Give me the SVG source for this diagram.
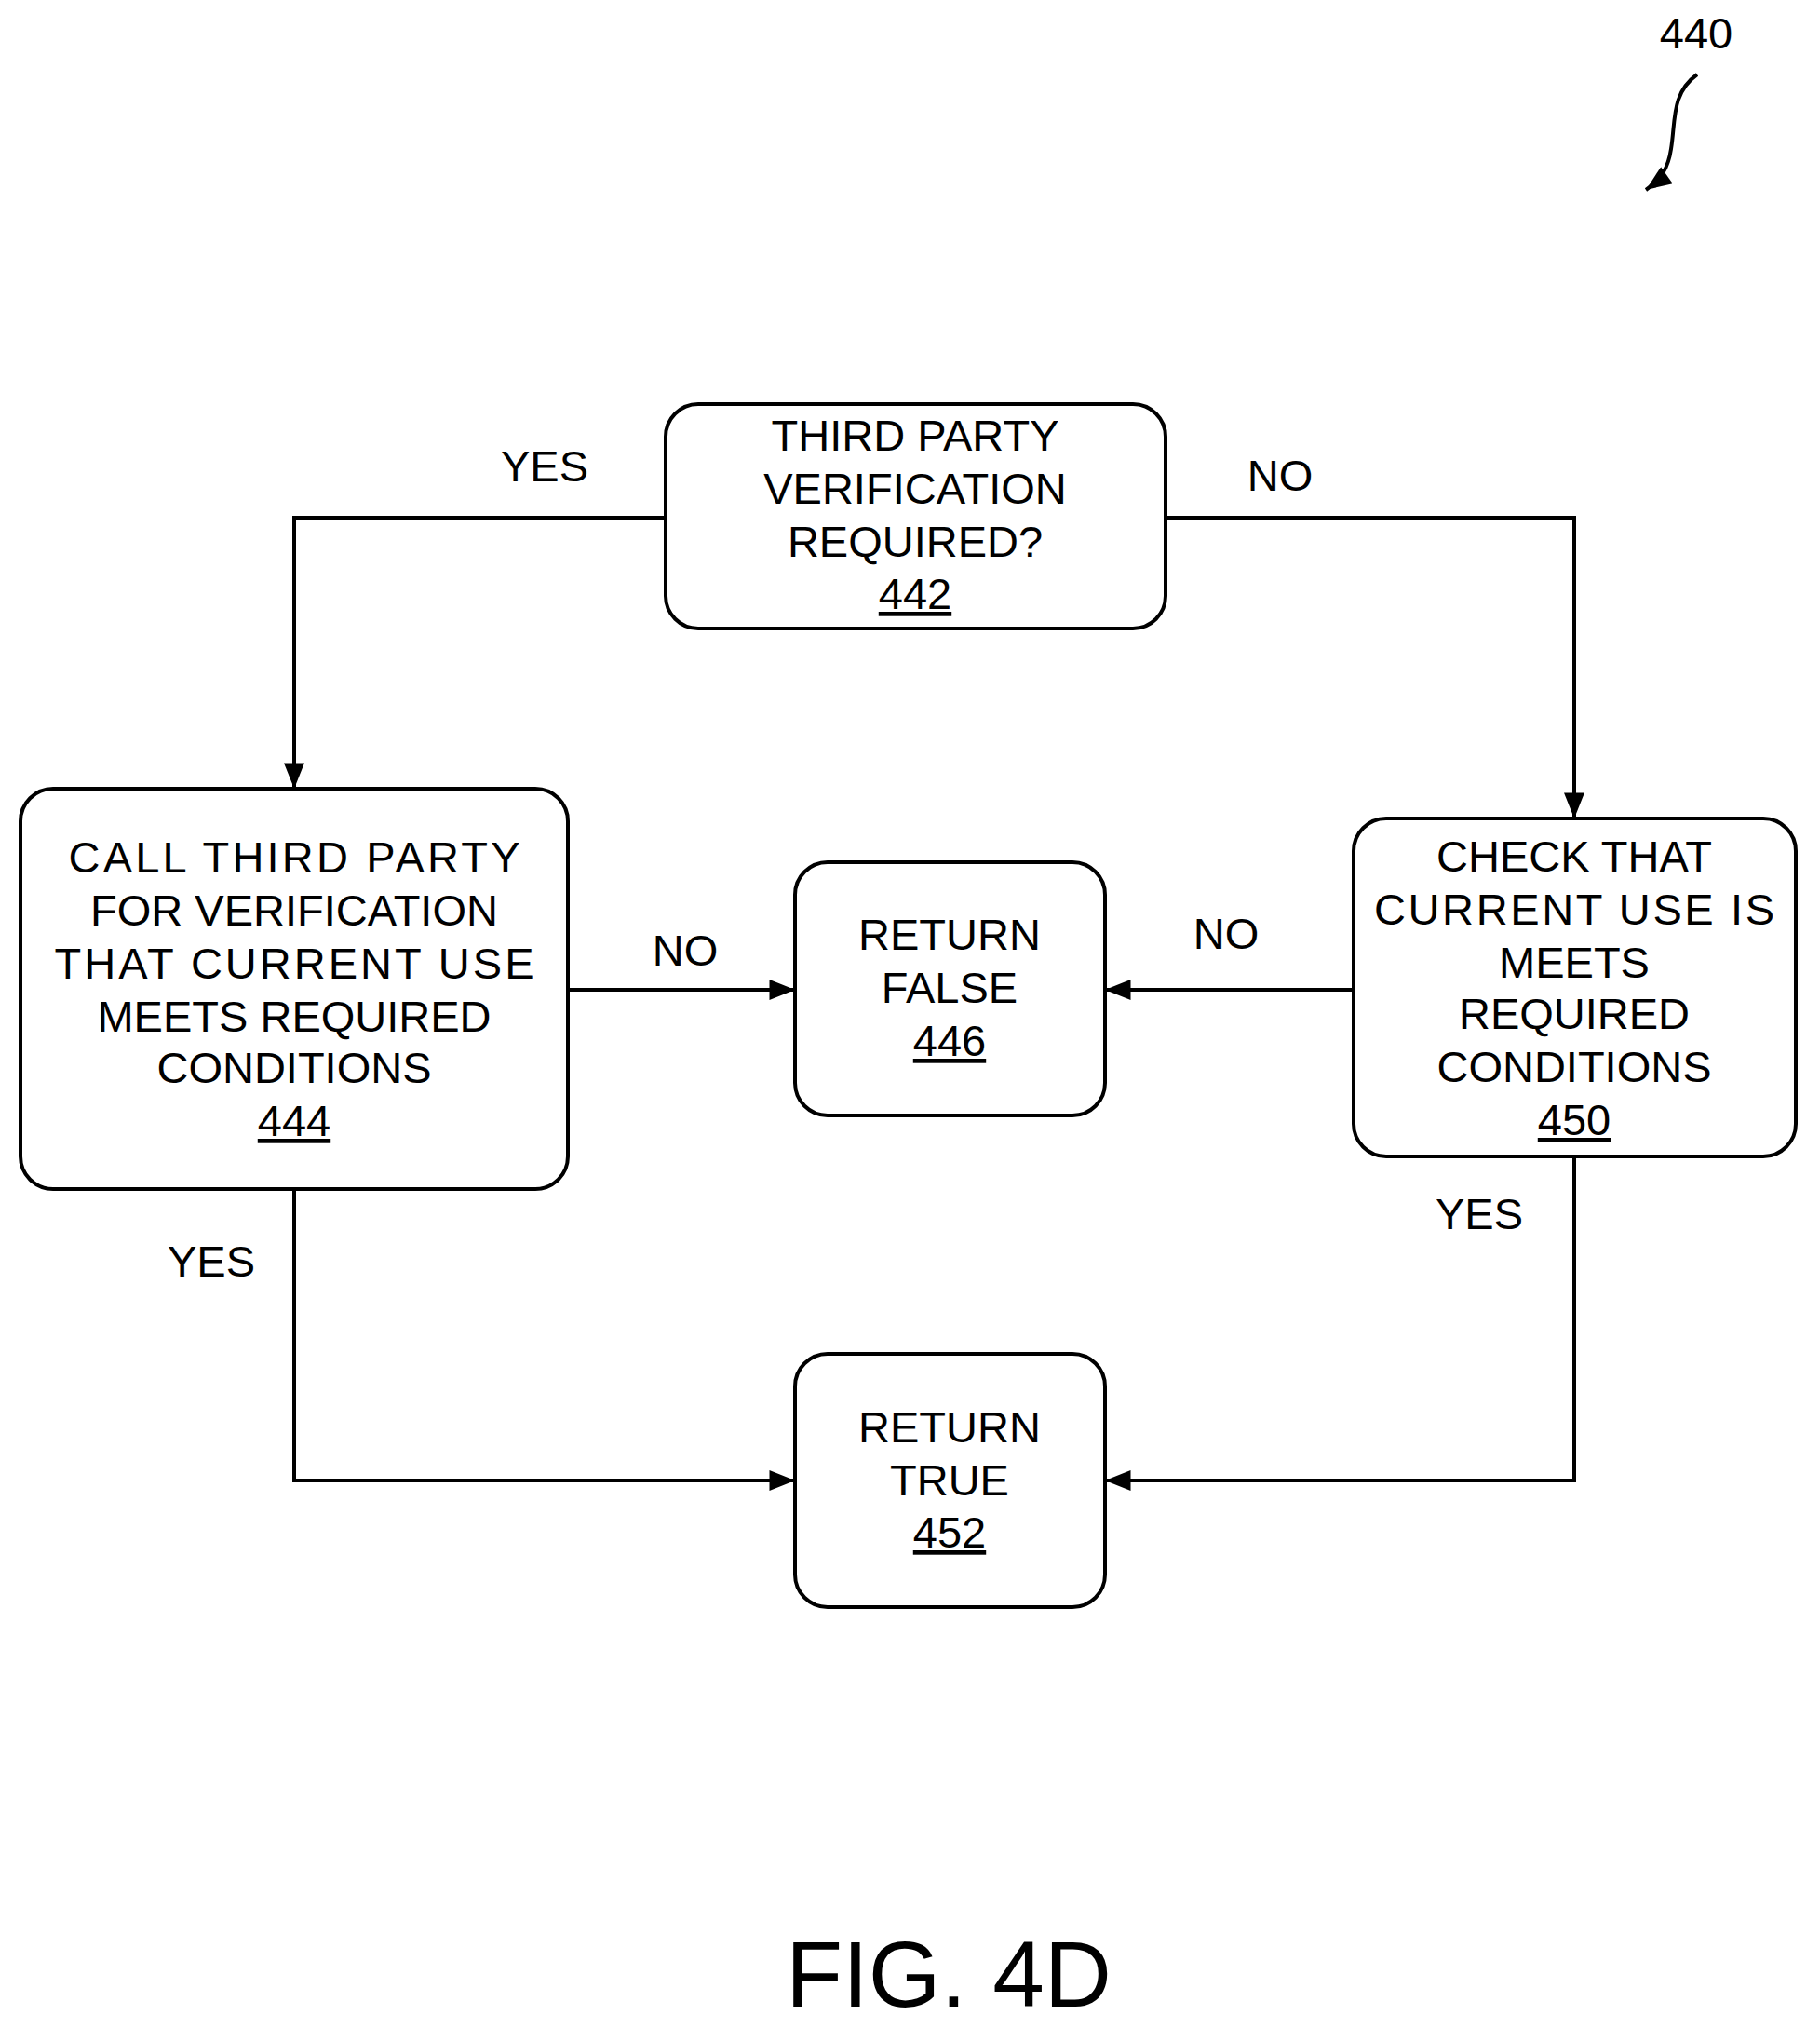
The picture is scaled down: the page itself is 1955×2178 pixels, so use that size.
<svg xmlns="http://www.w3.org/2000/svg" width="1955" height="2178" viewBox="0 0 1955 2178">
<style>
.b{fill:#fff;stroke:#000;stroke-width:4}
.t{font-family:"Liberation Sans",Arial,sans-serif;font-size:47px;text-anchor:middle;fill:#000}
.c{fill:none;stroke:#000;stroke-width:4}
</style>
<defs>
<marker id="A" viewBox="0 0 10 8" refX="10" refY="4" markerWidth="34" markerHeight="22" orient="auto" markerUnits="userSpaceOnUse"><path d="M0,0L10,4L0,8z"/></marker></defs>
<rect width="1955" height="2178" fill="#fff"/>
<g id="n442"><rect class="b" x="715" y="434" width="537" height="241" rx="35"/>
<text class="t" x="983" y="484">THIRD PARTY</text><text class="t" x="983" y="541">VERIFICATION</text><text class="t" x="983" y="598">REQUIRED?</text><text class="t" x="983" y="654" text-decoration="underline">442</text></g>
<g id="n444"><rect class="b" x="22" y="847" width="588" height="430" rx="35"/>
<text class="t" x="316" y="937" textLength="485">CALL THIRD PARTY</text><text class="t" x="316" y="994">FOR VERIFICATION</text><text class="t" x="316" y="1051" textLength="515">THAT CURRENT USE</text><text class="t" x="316" y="1108">MEETS REQUIRED</text><text class="t" x="316" y="1163">CONDITIONS</text><text class="t" x="316" y="1220" text-decoration="underline">444</text></g>
<g id="n446"><rect class="b" x="854" y="926" width="333" height="272" rx="35"/>
<text class="t" x="1020" y="1020">RETURN</text><text class="t" x="1020" y="1077">FALSE</text><text class="t" x="1020" y="1134" text-decoration="underline">446</text></g>
<g id="n450"><rect class="b" x="1454" y="879" width="475" height="363" rx="35"/>
<text class="t" x="1691" y="936">CHECK THAT</text><text class="t" x="1691" y="993" textLength="430">CURRENT USE IS</text><text class="t" x="1691" y="1050">MEETS</text><text class="t" x="1691" y="1105">REQUIRED</text><text class="t" x="1691" y="1162">CONDITIONS</text><text class="t" x="1691" y="1219" text-decoration="underline">450</text></g>
<g id="n452"><rect class="b" x="854" y="1454" width="333" height="272" rx="35"/>
<text class="t" x="1020" y="1549">RETURN</text><text class="t" x="1020" y="1606">TRUE</text><text class="t" x="1020" y="1662" text-decoration="underline">452</text></g>
<g id="connectors">
<path class="c" d="M715,556H316V847" marker-end="url(#A)"/>
<path class="c" d="M1252,556H1691V879" marker-end="url(#A)"/>
<path class="c" d="M610,1063H854" marker-end="url(#A)"/>
<path class="c" d="M1454,1063H1187" marker-end="url(#A)"/>
<path class="c" d="M316,1277V1590H854" marker-end="url(#A)"/>
<path class="c" d="M1691,1242V1590H1187" marker-end="url(#A)"/>
<path class="c" d="M1823,80C1795,100 1800,130 1795,160C1792,180 1785,192 1768,204" marker-end="url(#A)" stroke-width="3"/>
</g>
<g id="labels">
<text class="t" x="585" y="517">YES</text><text class="t" x="1375" y="527">NO</text>
<text class="t" x="736" y="1037">NO</text><text class="t" x="1317" y="1019">NO</text>
<text class="t" x="227" y="1371">YES</text><text class="t" x="1589" y="1320">YES</text>
<text class="t" x="1822" y="52">440</text>
<text class="t" x="1019" y="2155" style="font-size:100px">FIG. 4D</text>
</g>
</svg>
